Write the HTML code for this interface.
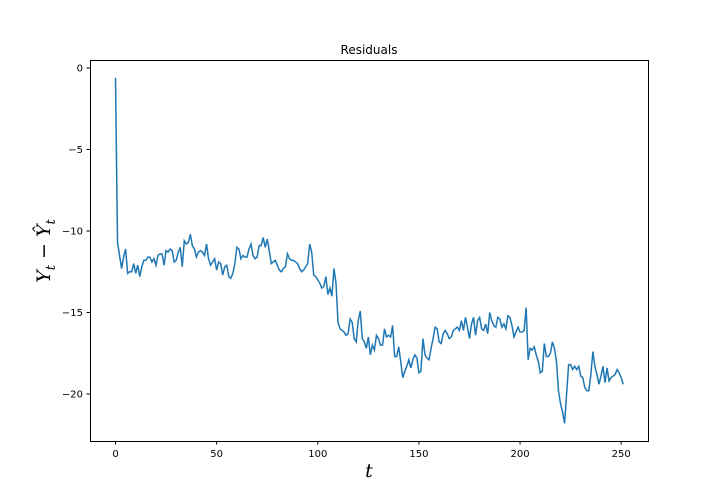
<!DOCTYPE html>
<html><head><meta charset="utf-8"><style>
body{margin:0;background:#fff;}
svg{display:block;font-family:"DejaVu Sans","Liberation Sans",sans-serif;}
</style></head><body>
<svg id="chart" width="720" height="504">
<rect x="0" y="0" width="720" height="504" fill="#fff"/>
<text x="369" y="54" font-size="12" text-anchor="middle">Residuals</text>
<g id="plot"></g>
<rect x="90.5" y="60.5" width="558" height="381" fill="none" stroke="#000" stroke-width="1"/>
<text x="369" y="477" font-size="19" font-style="italic" text-anchor="middle" font-family="DejaVu Serif, serif">t</text>
<g transform="translate(50,251) rotate(-90)">
<text x="0" y="0" font-size="19" text-anchor="middle" font-family="DejaVu Serif, serif" font-style="italic">Y<tspan font-size="13" dy="5">t</tspan><tspan dy="-5" font-style="normal"> − </tspan>Ŷ<tspan font-size="13" dy="5">t</tspan></text>
</g>
</svg>
<script>
const values=[-0.6,-10.7,-11.5,-12.3,-11.6,-11.1,-12.6,-12.5,-12.5,-12.0,-12.6,-12.1,-12.8,-12.2,-11.8,-11.8,-11.6,-11.6,-11.9,-11.7,-12.1,-11.5,-11.4,-11.4,-12.1,-11.2,-11.3,-11.1,-11.2,-11.9,-11.8,-11.3,-11.0,-12.2,-10.6,-10.8,-10.7,-10.2,-10.9,-11.1,-11.6,-11.3,-11.2,-11.3,-11.5,-10.8,-11.7,-12.1,-11.9,-11.7,-12.4,-11.9,-12.0,-12.7,-12.2,-12.1,-12.8,-12.9,-12.6,-12.0,-11.0,-11.1,-11.7,-11.5,-11.6,-11.6,-11.1,-10.8,-11.5,-11.7,-11.6,-10.9,-10.9,-10.4,-11.0,-10.5,-11.2,-12.0,-11.9,-11.8,-12.1,-12.4,-12.5,-12.3,-12.2,-11.4,-11.7,-11.8,-11.8,-11.9,-12.0,-12.3,-12.5,-12.4,-12.2,-12.0,-10.8,-11.3,-12.7,-12.8,-13.0,-13.2,-13.5,-13.4,-12.8,-13.9,-13.5,-14.0,-12.3,-13.2,-15.6,-16.0,-16.1,-16.2,-16.4,-16.3,-15.4,-15.6,-16.6,-16.8,-15.5,-14.9,-16.6,-16.8,-17.2,-16.5,-17.6,-17.0,-17.3,-16.4,-16.6,-17.0,-17.0,-16.0,-16.5,-16.4,-16.5,-15.8,-17.7,-17.7,-17.1,-18.0,-19.0,-18.6,-18.3,-17.9,-18.4,-17.9,-17.6,-17.8,-18.7,-18.6,-16.6,-17.6,-17.8,-17.9,-17.2,-16.6,-15.9,-16.0,-16.8,-16.9,-16.3,-16.1,-16.3,-16.6,-16.5,-16.1,-16.0,-15.9,-16.1,-15.5,-16.1,-15.3,-15.9,-16.6,-15.7,-15.3,-16.4,-15.5,-15.3,-16.0,-16.1,-15.7,-16.3,-15.0,-15.5,-15.8,-15.9,-15.3,-15.4,-15.9,-15.7,-16.0,-15.2,-15.3,-15.8,-16.5,-16.2,-15.9,-16.2,-16.2,-16.1,-14.7,-17.9,-17.2,-17.3,-17.1,-17.6,-18.0,-18.7,-18.6,-16.9,-17.7,-17.7,-17.5,-16.8,-17.2,-18.0,-19.8,-20.6,-21.1,-21.8,-20.0,-18.2,-18.2,-18.5,-18.3,-18.5,-18.3,-18.9,-19.0,-19.6,-19.8,-19.8,-18.8,-17.4,-18.3,-18.8,-19.4,-18.9,-18.3,-19.3,-18.4,-19.2,-19.0,-18.9,-18.8,-18.5,-18.7,-19.0,-19.4];
const xTicks=[0,50,100,150,200,250];
const yTicks=[0,-5,-10,-15,-20];
const NS='http://www.w3.org/2000/svg';
const xScale=t=>115.5+t*(621.2-115.5)/250;
const yScale=v=>68+(0-v)*(394-68)/20;
const g=document.getElementById('plot');
let d='';
values.forEach((v,i)=>{d+=(i?'L':'M')+xScale(i).toFixed(2)+','+yScale(v).toFixed(2);});
const p=document.createElementNS(NS,'path');
p.setAttribute('d',d);p.setAttribute('fill','none');p.setAttribute('stroke','#1f77b4');p.setAttribute('stroke-width','1.5');


g.appendChild(p);
xTicks.forEach(t=>{
 const x=xScale(t);
 const l=document.createElementNS(NS,'line');
 l.setAttribute('x1',x);l.setAttribute('x2',x);l.setAttribute('y1',441);l.setAttribute('y2',444.5);l.setAttribute('stroke','#000');
 
 
 g.appendChild(l);
 const tx=document.createElementNS(NS,'text');
 tx.setAttribute('x',x);tx.setAttribute('y',457);tx.setAttribute('font-size','10');tx.setAttribute('text-anchor','middle');
 tx.textContent=t;
 
 
 g.appendChild(tx);
});
yTicks.forEach(v=>{
 const y=yScale(v);
 const l=document.createElementNS(NS,'line');
 l.setAttribute('x1',86.5);l.setAttribute('x2',90);l.setAttribute('y1',y);l.setAttribute('y2',y);l.setAttribute('stroke','#000');
 
 
 g.appendChild(l);
 const tx=document.createElementNS(NS,'text');
 tx.setAttribute('x',83);tx.setAttribute('y',y+3.5);tx.setAttribute('font-size','10');tx.setAttribute('text-anchor','end');
 tx.textContent=v<0?'−'+(-v):String(v);
 
 
 g.appendChild(tx);
});
</script>
</body></html>
